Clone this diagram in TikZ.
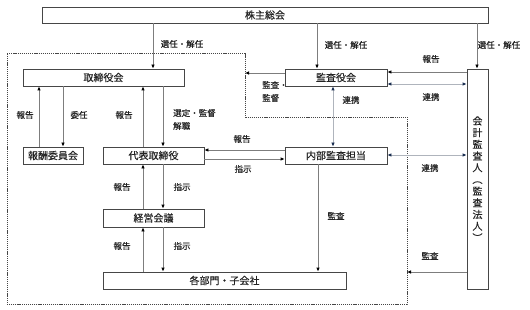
\documentclass[tikz,border=0pt]{standalone}
\usepackage{fontspec}
\setmainfont{Noto Sans CJK JP}[FakeBold=0.35]
\usetikzlibrary{arrows.meta}
\definecolor{boxline}{RGB}{70,70,70}
\definecolor{arrline}{RGB}{125,125,125}
\definecolor{linkline}{RGB}{175,180,188}
\definecolor{linktip}{RGB}{25,45,80}
\definecolor{txt}{RGB}{35,35,35}
\begin{document}
\begin{tikzpicture}[x=1pt,y=-1pt,
  box/.style={draw=boxline, line width=0.8pt, inner sep=0pt, font=\fontsize{10}{12}\selectfont, text=txt},
  arr/.style={draw=arrline, line width=0.8pt, -{Latex[length=4pt,width=3.6pt,color=black]}},
  link/.style={draw=linkline, line width=0.8pt, {Latex[length=4pt,width=3.6pt,color=linktip]}-{Latex[length=4pt,width=3.6pt,color=linktip]}},
  lbl/.style={font=\fontsize{8.5}{13}\selectfont, text=txt, inner sep=0pt},
  border/.style={draw=boxline, line width=0.6pt, dash pattern=on 1.2pt off 0.9pt}]
\useasboundingbox (0,0) rectangle (530,310);

% dashed frame
\draw[border] (7,53) -- (245,53) -- (245,117) -- (407,117) -- (407,304) -- (7,304) -- cycle;
\coordinate (bA) at (245,73);
\coordinate (bB) at (407,272);

% boxes
\node[box, minimum width=446pt, minimum height=16pt] (kabu) at (265,15) {株主総会};
\node[box, minimum width=161pt, minimum height=17pt] (tori) at (103.5,77.5) {取締役会};
\node[box, minimum width=102pt, minimum height=17pt] (kansa) at (336,77.5) {監査役会};
\node[box, minimum width=21pt, minimum height=220pt, align=center, font=\fontsize{10}{11.7}\selectfont] (kaikei) at (477.5,179) {会\\計\\監\\査\\人\\︵\\監\\査\\法\\人\\︶};
\node[box, minimum width=60pt, minimum height=17pt] (hoshu) at (53,155.5) {報酬委員会};
\node[box, minimum width=101pt, minimum height=17pt] (daihyo) at (153.5,155.5) {代表取締役};
\node[box, minimum width=102pt, minimum height=17pt] (naibu) at (336,155.5) {内部監査担当};
\node[box, minimum width=101pt, minimum height=18pt] (keiei) at (153.5,218) {経営会議};
\node[box, minimum width=243pt, minimum height=17pt] (kakubu) at (224.5,280.5) {各部門・子会社};

% x / y guides
\coordinate (x39) at (39,0);
\coordinate (x63) at (63,0);
\coordinate (x143) at (143,0);
\coordinate (x153) at (153,0);
\coordinate (x163) at (163,0);
\coordinate (x317) at (317,0);
\coordinate (x318) at (318,0);
\coordinate (x333) at (333,0);
\coordinate (x477) at (477,0);
\coordinate (y72) at (0,72);
\coordinate (y84) at (0,84);
\coordinate (y150) at (0,150);
\coordinate (y155) at (0,155);
\coordinate (y159) at (0,159);

% vertical arrows
\draw[arr] (kabu.south -| x153) -- (tori.north -| x153);
\draw[arr] (kabu.south -| x317) -- (kansa.north -| x317);
\draw[arr] (kabu.south -| x477) -- (kaikei.north -| x477);
\draw[arr] (hoshu.north -| x39) -- (tori.south -| x39);
\draw[arr] (tori.south -| x63) -- (hoshu.north -| x63);
\draw[arr] (daihyo.north -| x143) -- (tori.south -| x143);
\draw[arr] (tori.south -| x163) -- (daihyo.north -| x163);
\draw[arr] (keiei.north -| x143) -- (daihyo.south -| x143);
\draw[arr] (daihyo.south -| x163) -- (keiei.north -| x163);
\draw[arr] (kakubu.north -| x143) -- (keiei.south -| x143);
\draw[arr] (keiei.south -| x163) -- (kakubu.north -| x163);
\draw[arr] (naibu.south -| x318) -- (kakubu.north -| x318);
\draw[link] (kansa.south -| x333) -- (naibu.north -| x333);

% horizontal arrows
\draw[arr] (kansa.west |- bA) -- (bA);
\draw[arr] (kaikei.west |- bB) -- (bB);
\draw[arr] (kaikei.west |- y72) -- (kansa.east |- y72);
\draw[link] (kansa.east |- y84) -- (kaikei.west |- y84);
\draw[arr] (naibu.west |- y150) -- (daihyo.east |- y150);
\draw[arr] (daihyo.east |- y159) -- (naibu.west |- y159);
\draw[link] (naibu.east |- y155) -- (kaikei.west |- y155);

% labels
\node[lbl] (l1) at (182,44) {選任・解任};
\node[lbl] (l2) at (346,45) {選任・解任};
\node[lbl] (l3) at (499,45) {選任・解任};
\node[lbl] (l4) at (431,59) {報告};
\node[lbl] (l5) at (431,97) {連携};
\node[lbl] (l6) at (351,100) {連携};
\node[lbl, align=left, anchor=west] (l7) at (262,91.5) {監査・\\監督};
\node[lbl] (l8) at (25,115) {報告};
\node[lbl] (l9) at (79,115) {委任};
\node[lbl] (l10) at (124,115) {報告};
\node[lbl, align=left, anchor=west] (l11) at (173,119.5) {選定・監督\\解職};
\node[lbl] (l12) at (242,139) {報告};
\node[lbl] (l13) at (243,169) {指示};
\node[lbl] (l14) at (430,168) {連携};
\node[lbl] (l15) at (122,187) {報告};
\node[lbl] (l16) at (182,187) {指示};
\node[lbl] (l17) at (122,246) {報告};
\node[lbl] (l18) at (182,246) {指示};
\node[lbl] (l19) at (336,216) {監査};
\node[lbl] (l20) at (430,256) {監査};
\end{tikzpicture}
\end{document}
